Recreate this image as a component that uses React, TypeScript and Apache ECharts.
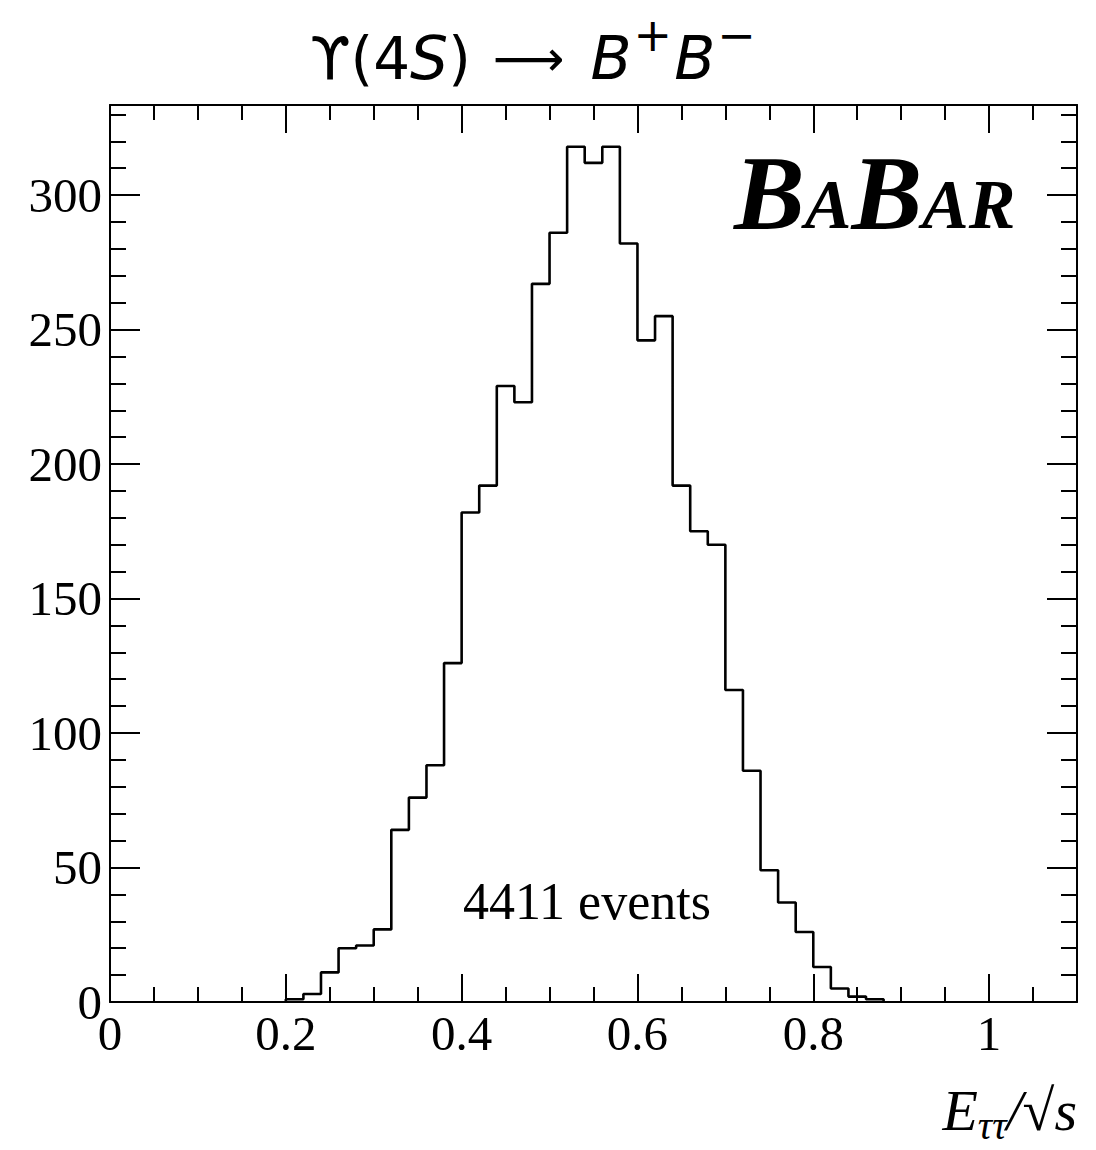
import React, { useEffect, useRef } from "react";
import * as echarts from "echarts";

// Histogram: lower bin edges (bin width 0.02) and event counts
const binLow = [
  0.2, 0.22, 0.24, 0.26, 0.28, 0.3, 0.32, 0.34, 0.36, 0.38,
  0.4, 0.42, 0.44, 0.46, 0.48, 0.5, 0.52, 0.54, 0.56, 0.58,
  0.6, 0.62, 0.64, 0.66, 0.68, 0.7, 0.72, 0.74, 0.76, 0.78,
  0.8, 0.82, 0.84, 0.86,
];
const lastEdge = 0.88;
const counts = [
  1, 3, 11, 20, 21, 27, 64, 76, 88, 126,
  182, 192, 229, 223, 267, 286, 318, 312, 318, 282,
  246, 255, 192, 175, 170, 116, 86, 49, 37, 26,
  13, 5, 2, 1,
];

const xMajorTicks = [0, 0.2, 0.4, 0.6, 0.8, 1];
const xMinorTicks = [0.05, 0.1, 0.15, 0.25, 0.3, 0.35, 0.45, 0.5, 0.55, 0.65, 0.7, 0.75, 0.85, 0.9, 0.95, 1.05];
const yMajorTicks = [0, 50, 100, 150, 200, 250, 300];
const yMinorTicks = [
  10, 20, 30, 40, 60, 70, 80, 90, 110, 120, 130, 140, 160, 170, 180, 190,
  210, 220, 230, 240, 260, 270, 280, 290, 310, 320, 330,
];
const xRange = [0, 1.1];
const yRange = [0, 333.5];

const titleText = "{n|ϒ(4}{i|S}{n|)}{ar|⟶}{i|B}{sup|+}{i|B}{sup|−}";
const eventsText = "4411 events";

export default function App() {
  const ref = useRef<HTMLDivElement>(null);
  useEffect(() => {
    if (!ref.current) return;
    const chart = echarts.init(ref.current, null, { renderer: "svg" });
    const black = "#000";
    const serif = "Liberation Serif";

    const mkX = (pos: string, ticks: number[], len: number, labels: boolean, line: boolean) => ({
      type: "value",
      position: pos,
      min: xRange[0],
      max: xRange[1],
      axisLine: { show: line, onZero: false, lineStyle: { color: black, width: 2 } },
      axisTick: { show: true, inside: true, length: len, customValues: ticks, lineStyle: { color: black, width: 2 } },
      axisLabel: {
        show: labels,
        customValues: xMajorTicks,
        formatter: (v: number) => String(Math.round(v * 10) / 10),
        fontFamily: serif,
        fontSize: 49,
        color: black,
        margin: 7,
      },
      splitLine: { show: false },
    });
    const mkY = (pos: string, ticks: number[], len: number, labels: boolean, line: boolean) => ({
      type: "value",
      position: pos,
      min: yRange[0],
      max: yRange[1],
      axisLine: { show: line, onZero: false, lineStyle: { color: black, width: 2 } },
      axisTick: { show: true, inside: true, length: len, customValues: ticks, lineStyle: { color: black, width: 2 } },
      axisLabel: {
        show: labels,
        customValues: yMajorTicks,
        fontFamily: serif,
        fontSize: 49,
        color: black,
        margin: 8,
      },
      splitLine: { show: false },
    });

    const histData: number[][] = [[binLow[0], 0]];
    binLow.forEach((x, i) => histData.push([x, counts[i]]));
    histData.push([lastEdge, 0]);

    const base = { fontFamily: "DejaVu Sans", fontSize: 58, fill: black, verticalAlign: "bottom", lineHeight: 84 };

    chart.setOption({
      animation: false,
      backgroundColor: "#fff",
      grid: { left: 110, right: 19, top: 105, bottom: 148, containLabel: false },
      xAxis: [
        mkX("bottom", xMajorTicks, 28, true, true),
        mkX("bottom", xMinorTicks, 15, false, false),
        mkX("top", xMajorTicks, 28, false, true),
        mkX("top", xMinorTicks, 15, false, false),
      ],
      yAxis: [
        mkY("left", yMajorTicks, 30, true, true),
        mkY("left", yMinorTicks, 16, false, false),
        mkY("right", yMajorTicks, 30, false, true),
        mkY("right", yMinorTicks, 16, false, false),
      ],
      series: [
        {
          type: "line",
          xAxisIndex: 0,
          yAxisIndex: 0,
          step: "end",
          symbol: "none",
          data: histData,
          lineStyle: { color: black, width: 2.6 },
          silent: true,
        },
      ],
      graphic: [
        {
          type: "text",
          left: 310,
          top: 12,
          style: {
            text: titleText,
            fill: black,
            rich: {
              n: { ...base },
              i: { ...base, fontStyle: "italic", fontSize: 60 },
              ar: { ...base, fontSize: 50, padding: [0, 26, 4, 22] },
              sup: { ...base, fontSize: 46, padding: [0, 2, 30, 2] },
            },
          },
        },
        {
          type: "text",
          left: 734,
          top: 140,
          style: {
            text: "{b|B}{a|A}{b|B}{a|AR}",
            fill: black,
            rich: {
              b: { fontFamily: serif, fontWeight: "bold", fontStyle: "italic", fontSize: 106, fill: black, verticalAlign: "bottom", lineHeight: 110 },
              a: { fontFamily: serif, fontWeight: "bold", fontStyle: "italic", fontSize: 70, fill: black, verticalAlign: "bottom", lineHeight: 110, padding: [0, 0, 7, 0] },
            },
          },
        },
        {
          type: "text",
          x: 587,
          y: 901,
          style: {
            text: eventsText,
            fontFamily: serif,
            fontSize: 52,
            fill: black,
            align: "center",
            verticalAlign: "middle",
          },
        },
        {
          type: "text",
          right: 19,
          top: 1081,
          style: {
            text: "{e|E}{s|ττ}{n|/}{r|√}{e|s}",
            fill: black,
            rich: {
              e: { fontFamily: serif, fontStyle: "italic", fontSize: 58, fill: black, verticalAlign: "bottom", lineHeight: 68, padding: [0, 0, 6, 0] },
              s: { fontFamily: serif, fontStyle: "italic", fontSize: 40, fill: black, verticalAlign: "bottom", lineHeight: 68 },
              n: { fontFamily: serif, fontStyle: "italic", fontSize: 58, fill: black, verticalAlign: "bottom", lineHeight: 68, padding: [0, 0, 6, 0] },
              r: { fontFamily: serif, fontSize: 58, fill: black, verticalAlign: "bottom", lineHeight: 68, padding: [0, 0, 6, 0] },
            },
          },
        },
      ],
    });
    return () => chart.dispose();
  }, []);
  return (
    <div
      ref={ref}
      style={{ position: "fixed", left: 0, top: 0, width: 1096, height: 1150, background: "#fff" }}
    />
  );
}
